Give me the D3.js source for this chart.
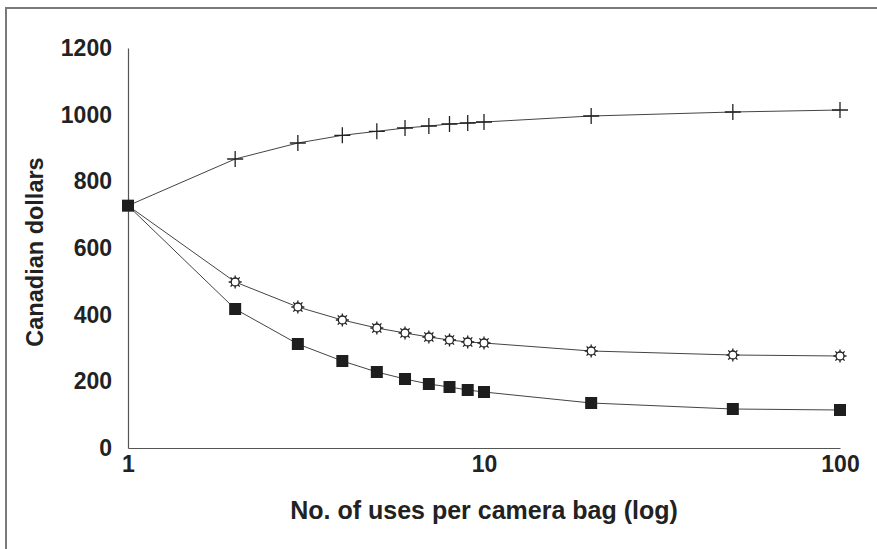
<!DOCTYPE html>
<html>
<head>
<meta charset="utf-8">
<script src="https://cdn.jsdelivr.net/npm/d3@7"></script>
<style>
    body { margin: 0; background: #fff; }
    svg text { font-family: "Liberation Sans", Arial, sans-serif; font-weight: bold; fill: #222; }
</style>
</head>
<body>
<svg id="canvas" width="877" height="549"></svg>
<script>

// Uses per camera bag (log axis)
const uses = [1, 2, 3, 4, 5, 6, 7, 8, 9, 10, 20, 50, 100];

// Canadian dollars
const crossSeries  = [727, 867, 915, 938, 950, 960, 966, 972, 975, 978, 996, 1008, 1014];
const starSeries   = [727, 498, 423, 384, 360, 345, 333, 324, 318, 315, 291, 279, 276];
const squareSeries = [727, 417, 312, 261, 228, 207, 192, 183, 174, 168, 135, 117, 114];

const yTicks = [0, 200, 400, 600, 800, 1000, 1200];
const xTicks = [1, 10, 100];

const svg = d3.select("#canvas");

// Frame (only top and left edges visible)
svg.append("path")
    .attr("d", "M6,549 V8 H877")
    .attr("fill", "none")
    .attr("stroke", "#7a7a7a")
    .attr("stroke-width", 2);

// Scales
const x = d3.scaleLog().domain([1, 100]).range([128, 840]);
const y = d3.scaleLinear().domain([0, 1200]).range([448, 48]);

// Axes
const yAxis = svg.append("g")
    .attr("transform", `translate(${x(1)},0)`)
    .call(d3.axisLeft(y).tickValues(yTicks).tickFormat(d3.format("d")).tickSize(0).tickPadding(16));
const xAxis = svg.append("g")
    .attr("transform", `translate(0,${y(0)})`)
    .call(d3.axisBottom(x).tickValues(xTicks).tickFormat(d3.format("d")).tickSize(0).tickPadding(8));

[yAxis, xAxis].forEach((g) => {
    g.select(".domain").attr("stroke", "#555").attr("stroke-width", 1.2);
    g.selectAll("text").attr("font-size", 23).attr("fill", "#222");
});

// Axis titles
svg.append("text")
    .attr("x", x(10))
    .attr("y", 519)
    .attr("text-anchor", "middle")
    .attr("font-size", 25)
    .text("No. of uses per camera bag (log)");

svg.append("text")
    .attr("transform", "translate(43,252) rotate(-90)")
    .attr("text-anchor", "middle")
    .attr("font-size", 23.5)
    .text("Canadian dollars");

// Lines
const line = d3.line()
    .x((d, i) => x(uses[i]))
    .y((d) => y(d));

[crossSeries, starSeries, squareSeries].forEach((s) => {
    svg.append("path")
        .datum(s)
        .attr("d", line)
        .attr("fill", "none")
        .attr("stroke", "#444")
        .attr("stroke-width", 1);
});

// Cross markers
svg.append("g")
    .selectAll("path")
    .data(crossSeries.slice(1))
    .enter()
    .append("path")
    .attr("transform", (d, i) => `translate(${x(uses[i + 1])},${y(d)})`)
    .attr("d", "M-8,0 H8 M0,-8 V8")
    .attr("stroke", "#222")
    .attr("stroke-width", 1.3);

// Star markers (small hollow circle with spikes)
const stars = svg.append("g")
    .selectAll("g")
    .data(starSeries.slice(1))
    .enter()
    .append("g")
    .attr("transform", (d, i) => `translate(${x(uses[i + 1])},${y(d)})`);
stars.append("path")
    .attr("d", d3.range(8).map((k) => {
        const a = k * Math.PI / 4;
        return `M${4 * Math.cos(a)},${4 * Math.sin(a)} L${6.5 * Math.cos(a)},${6.5 * Math.sin(a)}`;
    }).join(" "))
    .attr("stroke", "#222")
    .attr("stroke-width", 1.3);
stars.append("circle")
    .attr("r", 4)
    .attr("fill", "#fff")
    .attr("stroke", "#222")
    .attr("stroke-width", 1.3);

// Square markers (including shared first point)
svg.append("g")
    .selectAll("rect")
    .data(squareSeries)
    .enter()
    .append("rect")
    .attr("x", (d, i) => x(uses[i]) - 6)
    .attr("y", (d) => y(d) - 6)
    .attr("width", 12)
    .attr("height", 12)
    .attr("fill", "#1e1e1e");

</script>
</body>
</html>
